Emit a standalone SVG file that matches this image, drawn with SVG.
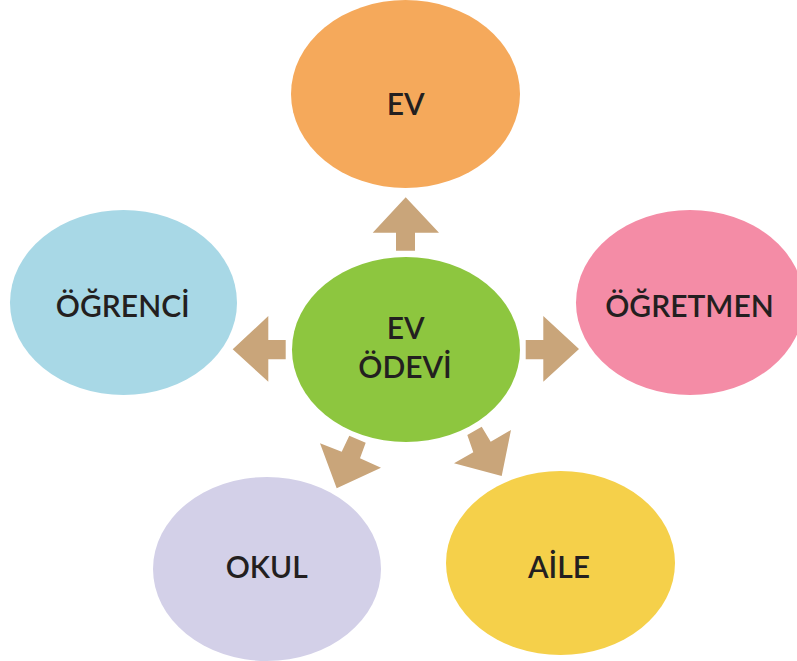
<svg xmlns="http://www.w3.org/2000/svg" width="797" height="661" viewBox="0 0 797 661">
<style>
.lbl{font-family:Lato,"Open Sans","Liberation Sans",sans-serif;font-weight:600;font-size:30px;fill:#231F20;text-anchor:middle}
.arr{fill:#C9A57A}
</style>
<rect width="797" height="661" fill="#FFFFFF"/>
<g id="connectors">
<polygon class="arr" points="405.7,197.3 439,232.7 415,232.7 415,250.7 396,250.7 396,232.7 372.7,232.7"/>
<polygon class="arr" points="232.7,349.3 268.3,316 268.3,340 285.7,340 285.7,359.3 268.3,359.3 268.3,381.7"/>
<polygon class="arr" points="579,349 543.3,316 543.3,340 525.7,340 525.7,359.3 543.3,359.3 543.3,381.7"/>
<polygon class="arr" points="336.7,488.3 320,443.3 341.7,451.7 349.3,435.7 365.7,442.7 360,458.3 381,467.7"/>
<polygon class="arr" points="501.7,476 454,463.3 473.3,452.3 467.3,435 481.7,426.7 490.7,441.7 511,430"/>
</g>
<g id="ev">
<ellipse cx="405.5" cy="94" rx="114.5" ry="94" fill="#F5A95B"/>
<text class="lbl" x="405.8" y="115">EV</text>
</g>
<g id="ogretmen">
<ellipse cx="690" cy="302.5" rx="114" ry="92.5" fill="#F48CA6"/>
<text class="lbl" x="689.5" y="317">ÖĞRETMEN</text>
</g>
<g id="ogrenci">
<ellipse cx="123.5" cy="302.5" rx="113.5" ry="92.5" fill="#A8D8E6"/>
<text class="lbl" x="122.8" y="316.7">ÖĞRENCİ</text>
</g>
<g id="okul">
<ellipse cx="267" cy="569" rx="114" ry="92" fill="#D3D0E8"/>
<text class="lbl" x="266.7" y="578.3">OKUL</text>
</g>
<g id="aile">
<ellipse cx="560.5" cy="563" rx="114.5" ry="92" fill="#F5D04A"/>
<text class="lbl" x="559" y="578">AİLE</text>
</g>
<g id="ev-odevi">
<ellipse cx="406" cy="349.5" rx="114" ry="92.5" fill="#8DC63F"/>
<text class="lbl" x="405.7" y="339.3">EV</text>
<text class="lbl" x="405" y="378.3">ÖDEVİ</text>
</g>
</svg>
